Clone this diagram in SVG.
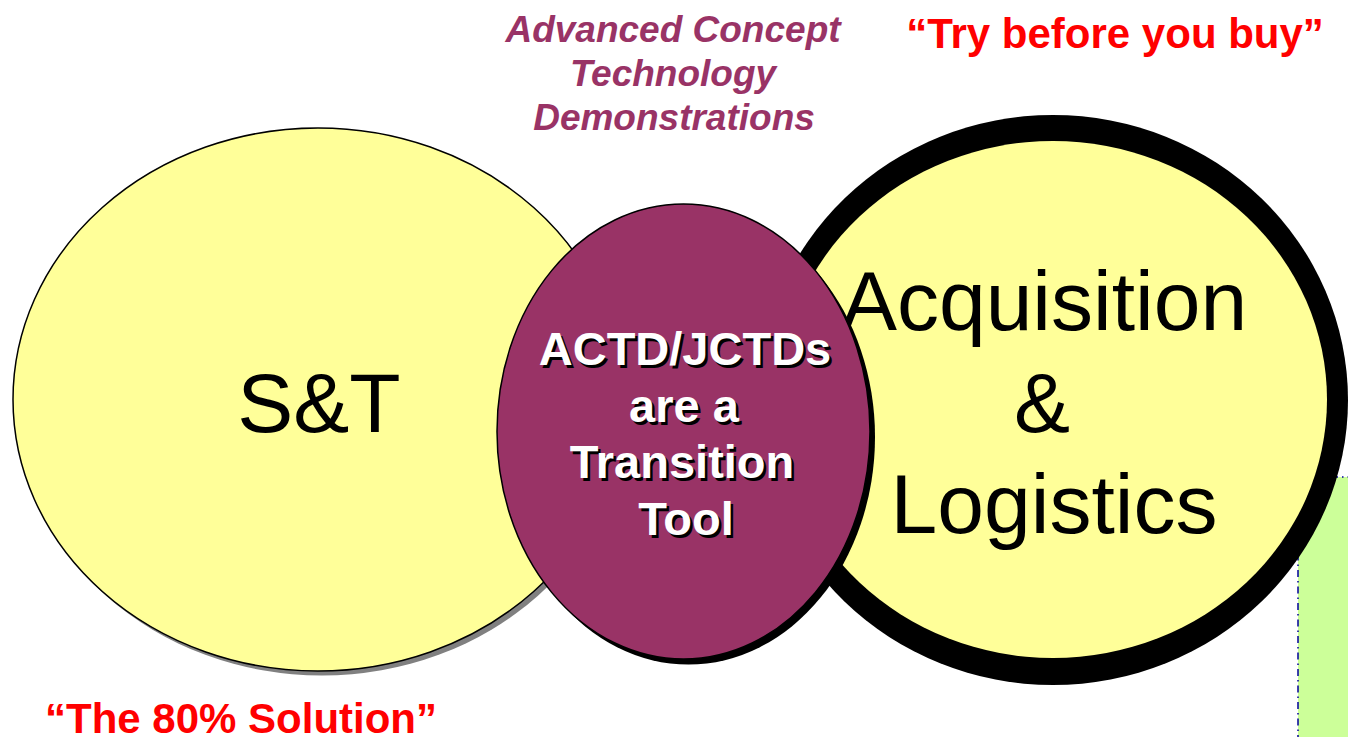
<svg xmlns="http://www.w3.org/2000/svg" width="1348" height="737" viewBox="0 0 1348 737">
<style>
.sans{font-family:"Liberation Sans",Arial,sans-serif}
.red{fill:#FF0000;font-weight:bold;font-size:42px}
.ttl{fill:#993366;font-weight:bold;font-style:italic;font-size:37px}
.big{fill:#000;font-size:84px}
.wt{font-weight:bold;font-size:47px}
</style>
<rect width="1348" height="737" fill="#FFFFFF"/>
<g id="green-box">
<rect x="1298" y="477" width="80" height="300" fill="#CCFF99" stroke="#000099" stroke-width="1.5" stroke-dasharray="7,4,1.5,4"/>
</g>
<g id="connectors"></g>
<g id="st">
<ellipse cx="322" cy="404" rx="305" ry="271.5" fill="#808080"/>
<ellipse cx="318" cy="399.5" rx="305" ry="271.5" fill="#FFFF99" stroke="#000" stroke-width="1.5"/>
<text class="sans big" x="319" y="432" text-anchor="middle">S&amp;T</text>
</g>
<g id="acq">
<ellipse cx="1053" cy="400" rx="295" ry="285" fill="#000"/>
<ellipse cx="1053" cy="399.5" rx="274" ry="258.5" fill="#FFFF99"/>
<text class="sans big" text-anchor="middle"><tspan x="1044" y="330">Acquisition</tspan><tspan x="1042" y="432">&amp;</tspan><tspan x="1054" y="533">Logistics</tspan></text>
</g>
<g id="actd">
<ellipse cx="688.5" cy="437" rx="186.5" ry="227.5" fill="#000"/>
<ellipse cx="683.5" cy="431.5" rx="186.5" ry="227.5" fill="#993366" stroke="#000" stroke-width="1.5"/>
<g class="sans wt" text-anchor="middle">
<text fill="#000"><tspan x="687.5" y="367.5">ACTD/JCTDs</tspan><tspan x="686.5" y="424.5">are a</tspan><tspan x="684.5" y="480.5">Transition</tspan><tspan x="688.5" y="537.5">Tool</tspan></text>
<text fill="#FFF"><tspan x="685" y="365">ACTD/JCTDs</tspan><tspan x="684" y="422">are a</tspan><tspan x="682" y="478">Transition</tspan><tspan x="686" y="535">Tool</tspan></text>
</g>
</g>
<g id="title">
<text class="sans ttl" text-anchor="middle"><tspan x="673" y="42">Advanced Concept</tspan><tspan x="673" y="86">Technology</tspan><tspan x="674" y="130">Demonstrations</tspan></text>
</g>
<g id="try">
<text class="sans red" x="1115" y="48" text-anchor="middle">“Try before you buy”</text>
</g>
<g id="eighty">
<text class="sans red" x="45" y="733">“The 80% Solution”</text>
</g>
</svg>
